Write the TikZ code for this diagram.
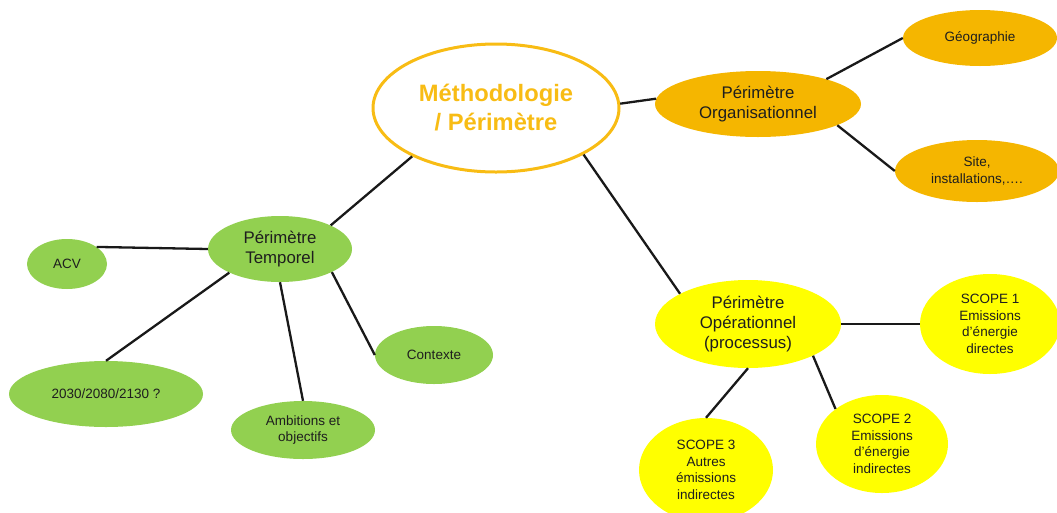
\documentclass[tikz,border=0pt]{standalone}
\usepackage{fontspec}
\setmainfont{Liberation Sans}
\usetikzlibrary{shapes.geometric}
\definecolor{orgc}{RGB}{245,182,0}
\definecolor{mainc}{RGB}{248,188,20}
\definecolor{greenc}{RGB}{146,208,80}
\definecolor{yelc}{RGB}{255,255,0}
\definecolor{txtc}{RGB}{30,30,30}
\begin{document}
\begin{tikzpicture}[x=1pt,y=-1pt,
  bubble/.style={ellipse, inner sep=0pt, align=center, text=txtc},
  small/.style={font=\fontsize{13.5}{16.5}\selectfont},
  mid/.style={font=\fontsize{16.8}{20}\selectfont},
  orgbub/.style={bubble, fill=orgc},
  grnbub/.style={bubble, fill=greenc},
  yelbub/.style={bubble, fill=yelc},
  link/.style={line width=2.3pt, draw=black!90}]
\useasboundingbox (0,0) rectangle (1057,512);
% main
\node[ellipse, draw=mainc, line width=3pt, fill=white, minimum width=246pt, minimum height=128pt,
      text=mainc, align=center, font=\fontsize{23.7}{29}\selectfont\bfseries] (main) at (496,108)
      {Méthodologie\\/ Périmètre};
% organisational
\node[orgbub, mid, minimum width=206pt, minimum height=66pt] (org) at (758,104) {Périmètre\\Organisationnel};
\node[orgbub, small, minimum width=154pt, minimum height=56pt] (geo) at (980,38) {Géographie};
\node[orgbub, small, minimum width=164pt, minimum height=62pt] (site) at (977,171) {Site,\\installations,….};
% temporal
\node[grnbub, mid, minimum width=144pt, minimum height=66pt] (temp) at (280,249) {Périmètre\\Temporel};
\node[grnbub, small, minimum width=80pt, minimum height=50pt] (acv) at (67,264) {ACV};
\node[grnbub, small, minimum width=194pt, minimum height=66pt] (dates) at (106,394) {2030/2080/2130 ?};
\node[grnbub, small, minimum width=144pt, minimum height=58pt] (amb) at (303,430) {Ambitions et\\objectifs};
\node[grnbub, small, minimum width=118pt, minimum height=58pt] (ctx) at (434,355) {Contexte};
% operational
\node[yelbub, mid, minimum width=186pt, minimum height=88pt] (op) at (748,324) {Périmètre\\Opérationnel\\(processus)};
\node[yelbub, small, minimum width=140pt, minimum height=100pt] (s1) at (990,324) {SCOPE 1\\Emissions\\d’énergie\\directes};
\node[yelbub, small, minimum width=132pt, minimum height=98pt] (s2) at (882,444) {SCOPE 2\\Emissions\\d’énergie\\indirectes};
\node[yelbub, small, minimum width=134pt, minimum height=104pt] (s3) at (706,470) {SCOPE 3\\Autres\\émissions\\indirectes};
% connectors
\draw[link] (main.210) -- (temp.25);
\draw[link] (main.2) -- (org.177);
\draw[link] (main.-28) -- (op.156);
\draw[link] (org.20) -- (geo.180);
\draw[link] (org.-15) -- (site.180);
\draw[link] (temp.180) -- (acv.30);
\draw[link] (temp.205) -- (dates.90);
\draw[link] (temp.-90) -- (amb.90);
\draw[link] (temp.-24) -- (ctx.180);
\draw[link] (op.0) -- (s1.180);
\draw[link] (op.-26) -- (s2.143);
\draw[link] (op.-90) -- (s3.90);
\end{tikzpicture}
\end{document}
